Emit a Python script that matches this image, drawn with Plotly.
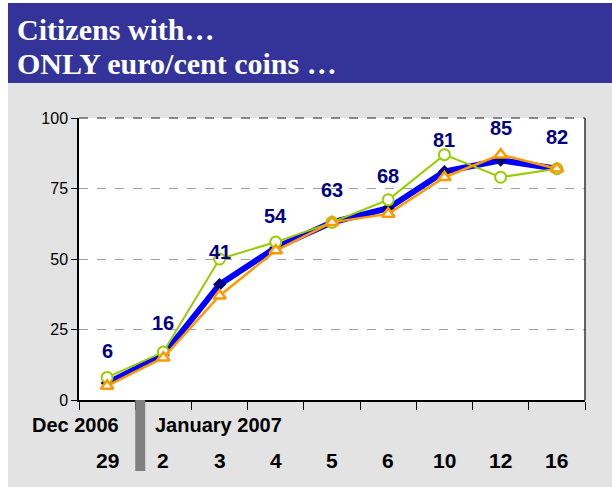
import plotly.graph_objects as go

# ---- data ----
day_labels = ["29", "2", "3", "4", "5", "6", "10", "12", "16"]
only_euro = [6, 16, 41, 54, 63, 68, 81, 85, 82]          # main series (labelled)
series_green = [8, 17, 50, 56, 63, 71, 87, 79, 82]
series_orange = [5, 15, 37, 53, 63, 66, 79, 87, 82]
month_labels = ["Dec 2006", "January 2007"]
y_ticks = [0, 25, 50, 75, 100]

W, H = 612, 487
L, R, T, B = 79, 585, 118, 400  # plot area in px
pw, ph = R - L, B - T

def px_x(p):
    return (p - L) / pw

def px_y(p):
    return (B - p) / ph

xs = [i + 0.5 for i in range(len(day_labels))]
FONT = "Liberation Sans, Arial, sans-serif"
SERIF = "Liberation Serif, Times New Roman, serif"

fig = go.Figure()
fig.add_trace(go.Scatter(
    x=xs, y=only_euro, mode="lines+markers",
    line=dict(color="#0000FF", width=6),
    marker=dict(symbol="diamond", size=10, color="#000080"),
    showlegend=False, hoverinfo="skip"))
fig.add_trace(go.Scatter(
    x=xs, y=series_green, mode="lines+markers",
    line=dict(color="#99CC00", width=2),
    marker=dict(symbol="circle", size=11, color="white",
                line=dict(color="#99CC00", width=2)),
    showlegend=False, hoverinfo="skip"))
fig.add_trace(go.Scatter(
    x=xs, y=series_orange, mode="lines+markers",
    line=dict(color="#FF9900", width=2.5),
    marker=dict(symbol="triangle-up", size=11, color="white",
                line=dict(color="#FF9900", width=2.5)),
    showlegend=False, hoverinfo="skip"))

annotations = []
for x, v in zip(xs, only_euro):
    annotations.append(dict(x=x, y=v, xref="x", yref="y", text=f"<b>{v}</b>",
                            showarrow=False, yshift=32,
                            font=dict(family=FONT, size=20, color="#000080")))
for x, d in zip(xs, day_labels):
    annotations.append(dict(x=x, y=px_y(460), xref="x", yref="paper", text=f"<b>{d}</b>",
                            showarrow=False, yanchor="middle",
                            font=dict(family=FONT, size=21, color="black")))
annotations.append(dict(x=px_x(75), y=px_y(425), xref="paper", yref="paper",
                        text=f"<b>{month_labels[0]}</b>", showarrow=False,
                        xanchor="center", yanchor="middle",
                        font=dict(family=FONT, size=20, color="black")))
annotations.append(dict(x=px_x(153), y=px_y(425), xref="paper", yref="paper",
                        text=f"<b>{month_labels[1]}</b>", showarrow=False,
                        xanchor="left", yanchor="middle",
                        font=dict(family=FONT, size=20, color="black")))
# title
annotations.append(dict(x=px_x(15), y=px_y(29), xref="paper", yref="paper",
                        text="<b>Citizens with…</b>", showarrow=False,
                        xanchor="left", yanchor="middle",
                        font=dict(family=SERIF, size=30, color="white")))
annotations.append(dict(x=px_x(15), y=px_y(63), xref="paper", yref="paper",
                        text="<b>ONLY euro/cent coins …</b>", showarrow=False,
                        xanchor="left", yanchor="middle",
                        font=dict(family=SERIF, size=30, color="white")))

shapes = [
    # grey panel
    dict(type="rect", xref="paper", yref="paper", x0=px_x(8), x1=px_x(W + 5),
         y0=px_y(83), y1=px_y(H + 5), fillcolor="#E3E3E3", line=dict(width=0), layer="below"),
    # banner
    dict(type="rect", xref="paper", yref="paper", x0=px_x(8), x1=px_x(W + 5),
         y0=px_y(3), y1=px_y(83), fillcolor="#333399", line=dict(width=0), layer="below"),
    # plot area white
    dict(type="rect", xref="paper", yref="paper", x0=0, x1=1, y0=0, y1=1,
         fillcolor="white", line=dict(width=0), layer="below"),
    # top border (dashed dark)
    dict(type="line", xref="paper", yref="paper", x0=0, x1=1, y0=1, y1=1,
         line=dict(color="#666666", width=1.5, dash="dash")),
    # right border
    dict(type="line", xref="paper", yref="paper", x0=1, x1=1, y0=0, y1=1,
         line=dict(color="#333333", width=1.5)),
    # grey separator bar between December and January
    dict(type="rect", xref="x", yref="paper", x0=1.0, x1=1.0 + 10 / (pw / 9),
         y0=px_y(471), y1=0, fillcolor="#808080", line=dict(width=0)),
]

fig.update_layout(
    width=W, height=H,
    margin=dict(l=L, r=W - R, t=T, b=H - B, pad=0),
    paper_bgcolor="white", plot_bgcolor="rgba(0,0,0,0)",
    annotations=annotations, shapes=shapes,
    xaxis=dict(range=[0, len(day_labels)], tickvals=list(range(len(day_labels) + 1)),
               showticklabels=False, ticks="outside", ticklen=8, tickcolor="black",
               tickwidth=1, showline=True, linecolor="black", linewidth=1.5,
               showgrid=False, zeroline=False, fixedrange=True),
    yaxis=dict(range=[0, 100], tickvals=y_ticks, ticks="outside", ticklen=6,
               tickcolor="black", showline=True, linecolor="black", linewidth=1.5,
               showgrid=True, gridcolor="#A0A0A0", griddash="dash", gridwidth=1,
               zeroline=False, tickfont=dict(family=FONT, size=16, color="black"),
               fixedrange=True),
    font=dict(family=FONT),
)

fig.write_html("out.html", config={"displayModeBar": False},
               post_script="document.body.style.margin='0px';document.body.style.overflow='hidden';")
